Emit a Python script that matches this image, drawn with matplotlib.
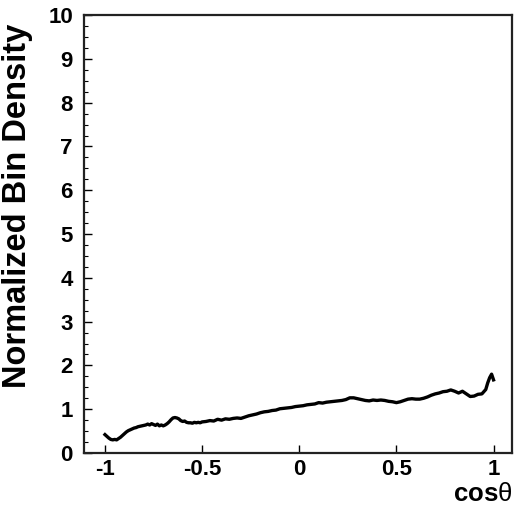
import matplotlib
matplotlib.use("Agg")
import matplotlib.pyplot as plt
from matplotlib.ticker import MultipleLocator

plt.rcParams['font.family'] = ['Liberation Sans', 'DejaVu Sans']
plt.rcParams['mathtext.fontset'] = 'custom'
plt.rcParams['mathtext.rm'] = 'Liberation Sans'
plt.rcParams['mathtext.bf'] = 'Liberation Sans:bold'

# normalized bin density vs cos(theta)
cos_theta = [
    -1.00, -0.99, -0.98, -0.97, -0.96, -0.95, -0.94, -0.93, -0.92, -0.91,
    -0.90, -0.89, -0.88, -0.87, -0.86, -0.85, -0.84, -0.83, -0.82, -0.81,
    -0.80, -0.79, -0.78, -0.77, -0.76, -0.75, -0.74, -0.73, -0.72, -0.71,
    -0.70, -0.69, -0.68, -0.67, -0.66, -0.65, -0.64, -0.63, -0.62, -0.61,
    -0.60, -0.59, -0.58, -0.57, -0.56, -0.55, -0.54, -0.53, -0.52, -0.51,
    -0.50, -0.48, -0.46, -0.44, -0.42, -0.40, -0.38, -0.36, -0.34, -0.32,
    -0.30, -0.28, -0.26, -0.24, -0.22, -0.20, -0.18, -0.16, -0.14, -0.12,
    -0.10, -0.08, -0.06, -0.04, -0.02, 0.00, 0.02, 0.04, 0.06, 0.08,
    0.10, 0.12, 0.14, 0.16, 0.18, 0.20, 0.22, 0.24, 0.26, 0.28,
    0.30, 0.32, 0.34, 0.36, 0.38, 0.40, 0.42, 0.44, 0.46, 0.48,
    0.50, 0.52, 0.54, 0.56, 0.58, 0.60, 0.62, 0.64, 0.66, 0.68,
    0.70, 0.72, 0.74, 0.76, 0.78, 0.80, 0.82, 0.84, 0.86, 0.88,
    0.90, 0.92, 0.94, 0.96, 0.97, 0.98, 0.99, 1.00,
]
density = [
    0.42, 0.38, 0.34, 0.31, 0.30, 0.31, 0.30, 0.33, 0.36, 0.40,
    0.44, 0.48, 0.51, 0.53, 0.55, 0.57, 0.58, 0.60, 0.61, 0.62,
    0.63, 0.64, 0.66, 0.64, 0.67, 0.65, 0.63, 0.66, 0.62, 0.64,
    0.62, 0.64, 0.67, 0.71, 0.76, 0.80, 0.81, 0.80, 0.78, 0.74,
    0.72, 0.73, 0.70, 0.69, 0.69, 0.68, 0.70, 0.69, 0.70, 0.69,
    0.71, 0.72, 0.74, 0.73, 0.77, 0.75, 0.78, 0.77, 0.79, 0.80,
    0.79, 0.82, 0.85, 0.87, 0.89, 0.92, 0.94, 0.95, 0.97, 0.98,
    1.01, 1.02, 1.03, 1.04, 1.06, 1.07, 1.08, 1.10, 1.11, 1.12,
    1.15, 1.14, 1.16, 1.17, 1.18, 1.19, 1.20, 1.22, 1.26, 1.26,
    1.24, 1.22, 1.20, 1.19, 1.21, 1.20, 1.21, 1.20, 1.18, 1.17,
    1.15, 1.17, 1.20, 1.23, 1.24, 1.23, 1.23, 1.25, 1.28, 1.32,
    1.35, 1.37, 1.40, 1.41, 1.44, 1.41, 1.37, 1.41, 1.35, 1.29,
    1.30, 1.34, 1.35, 1.45, 1.60, 1.72, 1.80, 1.67,
]
x_ticks = [-1, -0.5, 0, 0.5, 1]
x_tick_labels = ['-1', '-0.5', '0', '0.5', '1']

fig = plt.figure(figsize=(5.14, 5.11), dpi=100)
ax = fig.add_axes([0.1634, 0.1135, 0.8327, 0.857])

ax.plot(cos_theta, density, color='black', lw=2.4)

ax.set_xlim(-1.108, 1.095)
ax.set_ylim(0, 10)
ax.set_xticks(x_ticks)
ax.set_xticklabels(x_tick_labels)
ax.yaxis.set_major_locator(MultipleLocator(1))
ax.yaxis.set_minor_locator(MultipleLocator(0.25))

ax.tick_params(axis='both', which='major', direction='in', length=6, width=1,
               labelsize=16)
ax.tick_params(axis='y', which='major', pad=8)
ax.tick_params(axis='y', which='minor', direction='in', length=3, width=0.8)
ax.tick_params(axis='x', which='major', pad=4)
for lbl in ax.get_xticklabels() + ax.get_yticklabels():
    lbl.set_fontweight('bold')

for sp in ax.spines.values():
    sp.set_linewidth(1.6)
    sp.set_color('#222222')

ax.set_ylabel('Normalized Bin Density', fontsize=23.5, fontweight='bold')
ax.yaxis.set_label_coords(-0.118, 0.565)
ax.set_xlabel(r'$\mathbf{cos}\mathrm{\theta}$', fontsize=18.5, ha='right')
ax.xaxis.set_label_coords(1.0, -0.066)
ax.xaxis.label.set_verticalalignment('top')

fig.savefig('out.png', dpi=100, facecolor='white')
